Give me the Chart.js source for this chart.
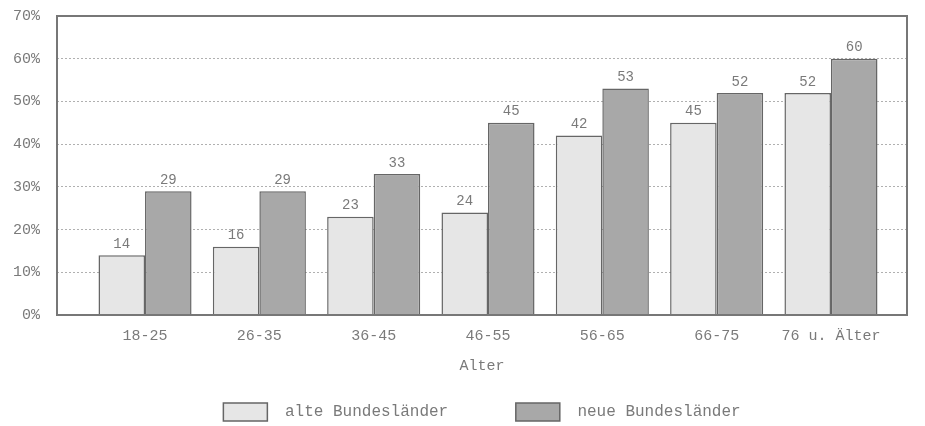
<!DOCTYPE html>
<html>
<head>
<meta charset="utf-8">
<script src="https://cdn.jsdelivr.net/npm/chart.js@4/dist/chart.umd.min.js"></script>
<style>
  html, body { margin: 0; padding: 0; background: #fff; }
  #wrap { width: 925px; height: 426px; }
</style>
</head>
<body>
<div id="wrap"><canvas id="chart" width="925" height="426"></canvas></div>
<script>
const ageGroups = ['18-25', '26-35', '36-45', '46-55', '56-65', '66-75', '76 u. Älter']
const alteBL = [14, 16, 23, 24, 42, 45, 52]
const neueBL = [29, 29, 33, 45, 53, 52, 60]
const yTicks = [0, 10, 20, 30, 40, 50, 60, 70]

const FONT = 'Liberation Mono, DejaVu Sans Mono, monospace'
const GREY = '#7a7a7a'

// bar values printed above each bar
const valueLabels = {
    id: 'valueLabels',
    afterDatasetsDraw(chart) {
        const ctx = chart.ctx
        ctx.save()
        ctx.font = '14px ' + FONT
        ctx.fillStyle = GREY
        ctx.textAlign = 'center'
        ctx.textBaseline = 'bottom'
        chart.data.datasets.forEach((ds, i) => {
            chart.getDatasetMeta(i).data.forEach((bar, j) => {
                ctx.fillText(String(ds.data[j].y), bar.x, bar.y - 4)
            })
        })
        ctx.restore()
    }
}

// frame round the plot area
const frame = {
    id: 'frame',
    afterDraw(chart) {
        const a = chart.chartArea
        const ctx = chart.ctx
        ctx.save()
        ctx.strokeStyle = '#777'
        ctx.lineWidth = 2
        ctx.strokeRect(a.left, a.top, a.right - a.left, a.bottom - a.top)
        ctx.restore()
    }
}

const toPoints = vals => vals.map((v, i) => ({ x: i, y: v }))

new Chart(document.getElementById('chart'), {
    type: 'bar',
    plugins: [valueLabels, frame],
    data: {
        datasets: [{
            label: 'alte Bundesländer',
            data: toPoints(alteBL),
            backgroundColor: '#e6e6e6',
            borderColor: '#666',
            borderWidth: 1.5,
            categoryPercentage: 0.814,
            barPercentage: 1
        }, {
            label: 'neue Bundesländer',
            data: toPoints(neueBL),
            backgroundColor: '#a8a8a8',
            borderColor: '#666',
            borderWidth: 1.5,
            categoryPercentage: 0.814,
            barPercentage: 1
        }]
    },
    options: {
        responsive: false,
        animation: false,
        layout: { padding: { top: 16, right: 18, left: 13, bottom: -5 } },
        scales: {
            x: {
                type: 'linear',
                min: -0.77,
                max: 6.665,
                offset: false,
                grid: { display: false, drawTicks: false },
                border: { display: false },
                ticks: {
                    stepSize: 1,
                    includeBounds: false,
                    autoSkip: false,
                    maxRotation: 0,
                    padding: 12,
                    color: GREY,
                    font: { family: FONT, size: 15 },
                    callback: v => Number.isInteger(v) ? ageGroups[v] : ''
                },
                title: {
                    display: true,
                    text: 'Alter',
                    color: GREY,
                    font: { family: FONT, size: 15 },
                    padding: { top: 0, bottom: 18 }
                }
            },
            y: {
                min: 0,
                max: 70,
                afterBuildTicks: axis => { axis.ticks = yTicks.map(v => ({ value: v })) },
                afterFit: axis => {
                    axis.width = 44
                    axis.paddingTop = 0
                    axis.paddingBottom = 0
                },
                grid: {
                    color: '#b0b0b0',
                    lineWidth: 1,
                    drawTicks: false
                },
                border: { display: false, dash: [2, 2] },
                ticks: {
                    padding: 17,
                    color: GREY,
                    font: { family: FONT, size: 15 },
                    callback: v => v + '%'
                }
            }
        },
        plugins: {
            legend: {
                position: 'bottom',
                fullSize: false,
                labels: {
                    boxWidth: 44,
                    boxHeight: 18,
                    padding: 10,
                    color: GREY,
                    font: { family: FONT, size: 16 },
                    generateLabels: chart => {
                        const items = Chart.defaults.plugins.legend.labels.generateLabels(chart)
                        // wider gaps in the legend, as in the original
                        items[0].text = ' ' + items[0].text + '      '
                        items[1].text = ' ' + items[1].text
                        return items
                    }
                }
            },
            tooltip: { enabled: false }
        }
    }
})
</script>
</body>
</html>
